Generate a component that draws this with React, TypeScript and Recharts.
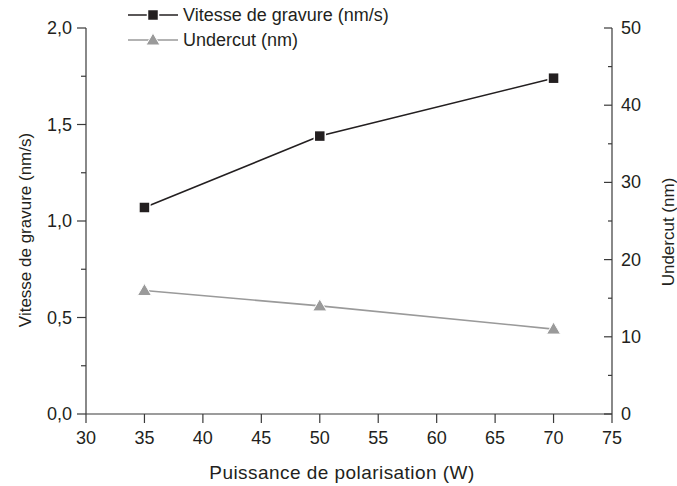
import { ComposedChart, Line, XAxis, YAxis, Legend } from "recharts"

const puissance = [35, 50, 70]
const vitesse = [1.07, 1.44, 1.74]
const undercut = [16, 14, 11]

const xTicks = [30, 35, 40, 45, 50, 55, 60, 65, 70, 75]
const leftTicks = [0, 0.25, 0.5, 0.75, 1, 1.25, 1.5, 1.75, 2]
const rightTicks = [0, 5, 10, 15, 20, 25, 30, 35, 40, 45, 50]

const data = puissance.map((p, i) => ({ p, vitesse: vitesse[i], undercut: undercut[i] }))

const INK = "#231f20"
const GREY = "#9a9a9a"
const AXIS = "#3a3a3a"
const FONT = "'Liberation Sans', Arial, sans-serif"

const Square = ({ cx, cy }: any) => (
  <rect x={cx - 5.5} y={cy - 5.5} width={11} height={11} fill={INK} stroke="#fff" strokeWidth={1.5} />
)

const Triangle = ({ cx, cy }: any) => (
  <polygon
    points={`${cx},${cy - 7} ${cx - 7},${cy + 5} ${cx + 7},${cy + 5}`}
    fill={GREY}
    stroke="#fff"
    strokeWidth={1}
  />
)

const series = [
  { name: "Vitesse de gravure (nm/s)", color: INK, Marker: Square },
  { name: "Undercut (nm)", color: GREY, Marker: Triangle },
]

function LegendBox() {
  return (
    <svg width={320} height={55} style={{ display: "block" }}>
      {series.map((s, i) => {
        const y = 15 + i * 25
        return (
          <g key={s.name}>
            <line x1={8} x2={58} y1={y} y2={y} stroke={s.color} strokeWidth={1.5} />
            <s.Marker cx={33} cy={y} />
            <text x={63} y={y} dominantBaseline="central" fontFamily={FONT} fontSize={18} fill={INK}>
              {s.name}
            </text>
          </g>
        )
      })}
    </svg>
  )
}

function LeftTick({ x, y, payload }: any) {
  const v = payload.value
  const major = Math.abs(v * 2 - Math.round(v * 2)) < 1e-6
  return (
    <g>
      <line x1={x} x2={x - (major ? 9 : 5)} y1={y} y2={y} stroke={AXIS} strokeWidth={1.2} />
      {major && (
        <text x={x - 14} y={y} textAnchor="end" dominantBaseline="central" fontFamily={FONT} fontSize={18} fill={INK}>
          {v.toFixed(1).replace(".", ",")}
        </text>
      )}
    </g>
  )
}

function RightTick({ x, y, payload }: any) {
  const v = payload.value
  const major = v % 10 === 0
  return (
    <g>
      <line x1={x} x2={x - (major ? 8 : 4)} y1={y} y2={y} stroke={AXIS} strokeWidth={1.2} />
      {major && (
        <text x={x + 9} y={y} textAnchor="start" dominantBaseline="central" fontFamily={FONT} fontSize={18} fill={INK}>
          {v}
        </text>
      )}
    </g>
  )
}

function BottomTick({ x, y, payload }: any) {
  return (
    <g>
      <line x1={x} x2={x} y1={y} y2={y + 9} stroke={AXIS} strokeWidth={1.2} />
      <text x={x} y={y + 24} textAnchor="middle" dominantBaseline="central" fontFamily={FONT} fontSize={18} fill={INK}>
        {payload.value}
      </text>
    </g>
  )
}

export default function App() {
  return (
    <div style={{ position: "absolute", left: 0, top: 0, width: 677, height: 486, background: "#fff" }}>
      <ComposedChart width={677} height={486} data={data} margin={{ top: 28, right: 0, bottom: 0, left: 0 }}>
        <XAxis
          dataKey="p"
          type="number"
          domain={[30, 75]}
          ticks={xTicks}
          interval={0}
          height={72}
          tickSize={0}
          tickMargin={0}
          tickLine={false}
          axisLine={{ stroke: AXIS, strokeWidth: 1.2 }}
          tick={<BottomTick />}
          label={() => (
            <text
              x={342}
              y={472}
              textAnchor="middle"
              dominantBaseline="central"
              fontFamily={FONT}
              fontSize={19}
              letterSpacing={0.45}
              fill={INK}
            >
              Puissance de polarisation (W)
            </text>
          )}
        />
        <YAxis
          yAxisId="left"
          orientation="left"
          domain={[0, 2]}
          ticks={leftTicks}
          interval={0}
          width={86}
          tickSize={0}
          tickMargin={0}
          tickLine={false}
          axisLine={{ stroke: AXIS, strokeWidth: 1.2 }}
          tick={<LeftTick />}
          label={() => (
            <text
              x={25}
              y={230}
              transform="rotate(-90 25 230)"
              textAnchor="middle"
              dominantBaseline="central"
              fontFamily={FONT}
              fontSize={17}
              fill={INK}
            >
              Vitesse de gravure (nm/s)
            </text>
          )}
        />
        <YAxis
          yAxisId="right"
          orientation="right"
          domain={[0, 50]}
          ticks={rightTicks}
          interval={0}
          width={65}
          tickSize={0}
          tickMargin={0}
          tickLine={false}
          axisLine={{ stroke: AXIS, strokeWidth: 1.2 }}
          tick={<RightTick />}
          label={() => (
            <text
              x={668}
              y={232}
              transform="rotate(-90 668 232)"
              textAnchor="middle"
              dominantBaseline="central"
              fontFamily={FONT}
              fontSize={17}
              fill={INK}
            >
              Undercut (nm)
            </text>
          )}
        />
        <Legend
          layout="vertical"
          align="center"
          verticalAlign="middle"
          content={() => <LegendBox />}
          wrapperStyle={{ position: "absolute", left: 120, top: 0, width: 320, height: 55 }}
        />
        <Line
          yAxisId="left"
          dataKey="vitesse"
          name="Vitesse de gravure (nm/s)"
          stroke={INK}
          strokeWidth={1.6}
          dot={(props: any) => <Square key={`s${props.index}`} cx={props.cx} cy={props.cy} />}
          isAnimationActive={false}
        />
        <Line
          yAxisId="right"
          dataKey="undercut"
          name="Undercut (nm)"
          stroke={GREY}
          strokeWidth={1.6}
          dot={(props: any) => <Triangle key={`t${props.index}`} cx={props.cx} cy={props.cy} />}
          isAnimationActive={false}
        />
      </ComposedChart>
    </div>
  )
}
